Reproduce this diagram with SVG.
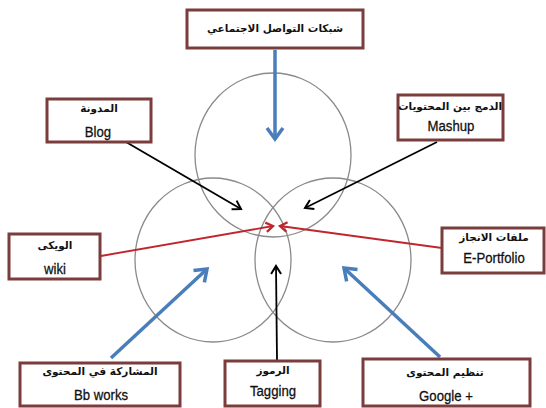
<svg xmlns="http://www.w3.org/2000/svg" width="546" height="408" viewBox="0 0 546 408">
<style>
.box{fill:#fff;stroke:#7b3c3c;stroke-width:3}
.ar{font-family:"DejaVu Sans",sans-serif;font-weight:bold;font-size:10.5px;fill:#111;text-anchor:middle}
.en{font-family:"Liberation Sans",Arial,sans-serif;font-size:15.5px;fill:#111;stroke:#111;stroke-width:0.3;text-anchor:middle}
.circ{fill:none;stroke:#8a8a8a;stroke-width:1.3}
.blue{stroke:#4a7ebb;stroke-width:3.5;fill:none}
.blk{stroke:#000;stroke-width:1.8;fill:none}
.red{stroke:#c0262d;stroke-width:1.8;fill:none}
</style>
<defs>
<marker id="mb" markerUnits="userSpaceOnUse" markerWidth="24" markerHeight="24" viewBox="-14 -12 16 24" refX="0" refY="0" orient="auto" overflow="visible">
<path d="M-11,-8 L0,0 L-11,8" fill="none" stroke="#4a7ebb" stroke-width="3.5" stroke-linejoin="miter"/>
</marker>
<marker id="mk" markerUnits="userSpaceOnUse" markerWidth="16" markerHeight="16" viewBox="-10 -8 12 16" refX="0" refY="0" orient="auto" overflow="visible">
<path d="M-8,-5 L0,0 L-8,5" fill="none" stroke="#000" stroke-width="2"/>
</marker>
<marker id="mr" markerUnits="userSpaceOnUse" markerWidth="14" markerHeight="14" viewBox="-8 -6 10 12" refX="0" refY="0" orient="auto" overflow="visible">
<path d="M-6,-4 L0,0 L-6,4" fill="none" stroke="#c0262d" stroke-width="2"/>
</marker>
</defs>
<rect width="546" height="408" fill="#fff"/>
<g id="circles">
<ellipse class="circ" cx="273" cy="155" rx="78" ry="82"/>
<ellipse class="circ" cx="213" cy="260" rx="78" ry="82"/>
<ellipse class="circ" cx="333" cy="260" rx="78" ry="82"/>
</g>
<g id="connectors">
<line class="blue" x1="275" y1="50" x2="275" y2="139" marker-end="url(#mb)"/>
<line class="blk" x1="126" y1="142" x2="241" y2="209" marker-end="url(#mk)"/>
<line class="blk" x1="437" y1="142" x2="305" y2="208" marker-end="url(#mk)"/>
<line class="red" x1="101" y1="256" x2="273" y2="226" marker-end="url(#mr)"/>
<line class="red" x1="442" y1="248" x2="280" y2="226" marker-end="url(#mr)"/>
<line class="blk" x1="277" y1="360" x2="276" y2="266" marker-end="url(#mk)"/>
<line class="blue" x1="111" y1="358" x2="207" y2="269" marker-end="url(#mb)"/>
<line class="blue" x1="440" y1="357" x2="344" y2="268" marker-end="url(#mb)"/>
</g>
<g id="n-social">
<rect class="box" x="187" y="10" width="176" height="38"/>
<text class="ar" x="275" y="32">شبكات التواصل الاجتماعي</text>
</g>
<g id="n-blog">
<rect class="box" x="47" y="99" width="104" height="43"/>
<text class="ar" x="99" y="112">المدونة</text>
<text class="en" transform="translate(98,137) scale(0.85,1)">Blog</text>
</g>
<g id="n-mashup">
<rect class="box" x="398" y="95" width="105" height="45"/>
<text class="ar" x="450" y="110">الدمج بين المحتويات</text>
<text class="en" transform="translate(451,131) scale(0.85,1)">Mashup</text>
</g>
<g id="n-wiki">
<rect class="box" x="9" y="234" width="91" height="45"/>
<text class="ar" x="55" y="249">الويكى</text>
<text class="en" transform="translate(55,274) scale(0.85,1)">wiki</text>
</g>
<g id="n-eportfolio">
<rect class="box" x="442" y="228" width="102" height="45"/>
<text class="ar" x="494" y="241">ملفات الانجاز</text>
<text class="en" transform="translate(494,263) scale(0.85,1)">E-Portfolio</text>
</g>
<g id="n-bbworks">
<rect class="box" x="20" y="363" width="160" height="43"/>
<text class="ar" x="100" y="375">المشاركة في المحتوى</text>
<text class="en" transform="translate(101,400) scale(0.85,1)">Bb works</text>
</g>
<g id="n-tagging">
<rect class="box" x="225" y="361" width="95" height="45"/>
<text class="ar" x="273" y="374">الرموز</text>
<text class="en" transform="translate(273,396) scale(0.85,1)">Tagging</text>
</g>
<g id="n-google">
<rect class="box" x="363" y="359" width="167" height="47"/>
<text class="ar" x="445" y="376">تنظيم المحتوى</text>
<text class="en" transform="translate(446,401) scale(0.85,1)">Google +</text>
</g>
</svg>
